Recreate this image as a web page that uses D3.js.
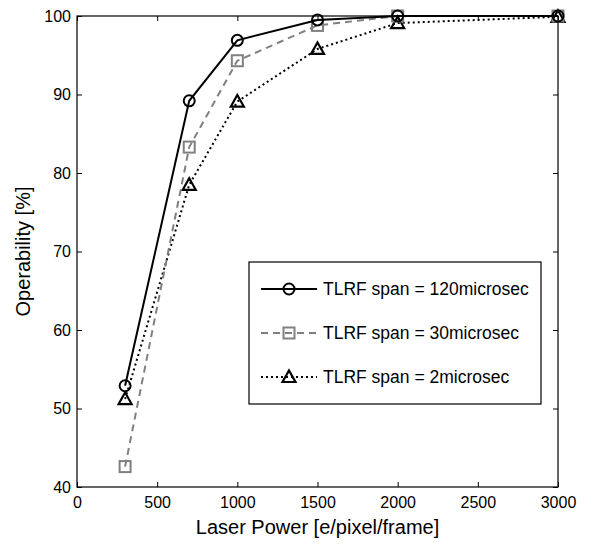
<!DOCTYPE html>
<html>
<head>
<meta charset="utf-8">
<script src="https://cdn.jsdelivr.net/npm/d3@7"></script>
<style>
  body { margin: 0; background: #fff; }
  text { font-family: "Liberation Sans", Arial, sans-serif; }
</style>
</head>
<body>
<div id="chart"></div>
<script>
// donnees
const POWER = [300, 700, 1000, 1500, 2000, 3000];
const SPAN120 = [52.9, 89.2, 96.9, 99.5, 100, 100];
const SPAN30 = [42.6, 83.3, 94.3, 98.8, 100, 100];
const SPAN2 = [51.2, 78.5, 89.1, 95.8, 99.1, 99.9];
const LABELS = ['TLRF span = 120microsec', 'TLRF span = 30microsec', 'TLRF span = 2microsec'];
const X_TICKS = [0, 500, 1000, 1500, 2000, 2500, 3000];
const Y_TICKS = [40, 50, 60, 70, 80, 90, 100];

const WIDTH = 605;
const HEIGHT = 548;
const M = { left: 77, right: 47, top: 16, bottom: 61 };

const svg = d3.select('#chart').append('svg').attr('width', WIDTH).attr('height', HEIGHT);

const x = d3.scaleLinear().domain([0, 3000]).range([M.left, WIDTH - M.right]);
const y = d3.scaleLinear().domain([40, 100]).range([HEIGHT - M.bottom, M.top]);

// style de chaque serie
const series = [
  { values: SPAN120, color: '#000', dash: null, marker: 'circle', label: LABELS[0] },
  { values: SPAN30, color: '#808080', dash: '7,5', marker: 'square', label: LABELS[1] },
  { values: SPAN2, color: '#000', dash: '2,3', marker: 'triangle', label: LABELS[2] }
];

// axes (ticks vers l'interieur, comme matlab)
const TICK = 5;
const fmt = d3.format('d');
svg.append('g').attr('transform', `translate(0,${y(40)})`)
  .call(d3.axisBottom(x).tickValues(X_TICKS).tickSize(-TICK).tickPadding(10).tickFormat(fmt))
  .call(g => g.select('.domain').remove());
svg.append('g').attr('transform', `translate(0,${y(100)})`)
  .call(d3.axisTop(x).tickValues(X_TICKS).tickSize(-TICK).tickFormat(''))
  .call(g => g.select('.domain').remove());
svg.append('g').attr('transform', `translate(${x(0)},0)`)
  .call(d3.axisLeft(y).tickValues(Y_TICKS).tickSize(-TICK).tickPadding(6).tickFormat(fmt))
  .call(g => g.select('.domain').remove());
svg.append('g').attr('transform', `translate(${x(3000)},0)`)
  .call(d3.axisRight(y).tickValues(Y_TICKS).tickSize(-TICK).tickFormat(''))
  .call(g => g.select('.domain').remove());

svg.selectAll('.tick text').attr('font-size', 16).attr('fill', '#000')
  .style('font-family', '"Liberation Sans", Arial, sans-serif');
svg.selectAll('.tick line').attr('stroke', '#000');

// cadre
svg.append('rect')
  .attr('x', x(0)).attr('y', y(100))
  .attr('width', x(3000) - x(0)).attr('height', y(40) - y(100))
  .attr('fill', 'none').attr('stroke', '#000').attr('stroke-width', 1.2);

const line = d3.line().x((d, i) => x(POWER[i])).y(d => y(d));

function drawMarker(g, type, color, cx, cy) {
  if (type === 'circle') {
    g.append('circle').attr('cx', cx).attr('cy', cy).attr('r', 5.5)
      .attr('fill', 'none').attr('stroke', color).attr('stroke-width', 2);
  } else if (type === 'square') {
    g.append('rect').attr('x', cx - 5.5).attr('y', cy - 5.5).attr('width', 11).attr('height', 11)
      .attr('fill', 'none').attr('stroke', color).attr('stroke-width', 2);
  } else {
    g.append('path').attr('d', `M${cx},${cy - 6.5}L${cx + 6.5},${cy + 5}L${cx - 6.5},${cy + 5}Z`)
      .attr('fill', 'none').attr('stroke', color).attr('stroke-width', 2.2);
  }
}

// les courbes (ordre de dessin : 2, 30, 120)
[series[2], series[1], series[0]].forEach(s => {
  const g = svg.append('g');
  g.append('path').attr('d', line(s.values))
    .attr('fill', 'none').attr('stroke', s.color).attr('stroke-width', 2)
    .attr('stroke-dasharray', s.dash);
  s.values.forEach((v, i) => drawMarker(g, s.marker, s.color, x(POWER[i]), y(v)));
});

// legende
const legend = svg.append('g').attr('transform', 'translate(249,262)');
legend.append('rect').attr('width', 292).attr('height', 142)
  .attr('fill', '#fff').attr('stroke', '#000').attr('stroke-width', 1.2);

series.forEach((s, i) => {
  const ly = 27 + i * 44;
  const row = legend.append('g');
  row.append('line').attr('x1', 12).attr('x2', 68).attr('y1', ly).attr('y2', ly)
    .attr('stroke', s.color).attr('stroke-width', 2).attr('stroke-dasharray', s.dash);
  drawMarker(row, s.marker, s.color, 40, ly);
  row.append('text').attr('x', 74).attr('y', ly + 6).attr('font-size', 17.5).text(s.label);
});

// titres des axes
svg.append('text').attr('x', (x(0) + x(3000)) / 2).attr('y', 534)
  .attr('text-anchor', 'middle').attr('font-size', 20).text('Laser Power [e/pixel/frame]');
svg.append('text').attr('transform', `translate(30,${(y(40) + y(100)) / 2}) rotate(-90)`)
  .attr('text-anchor', 'middle').attr('font-size', 20).text('Operability [%]');
</script>
</body>
</html>
